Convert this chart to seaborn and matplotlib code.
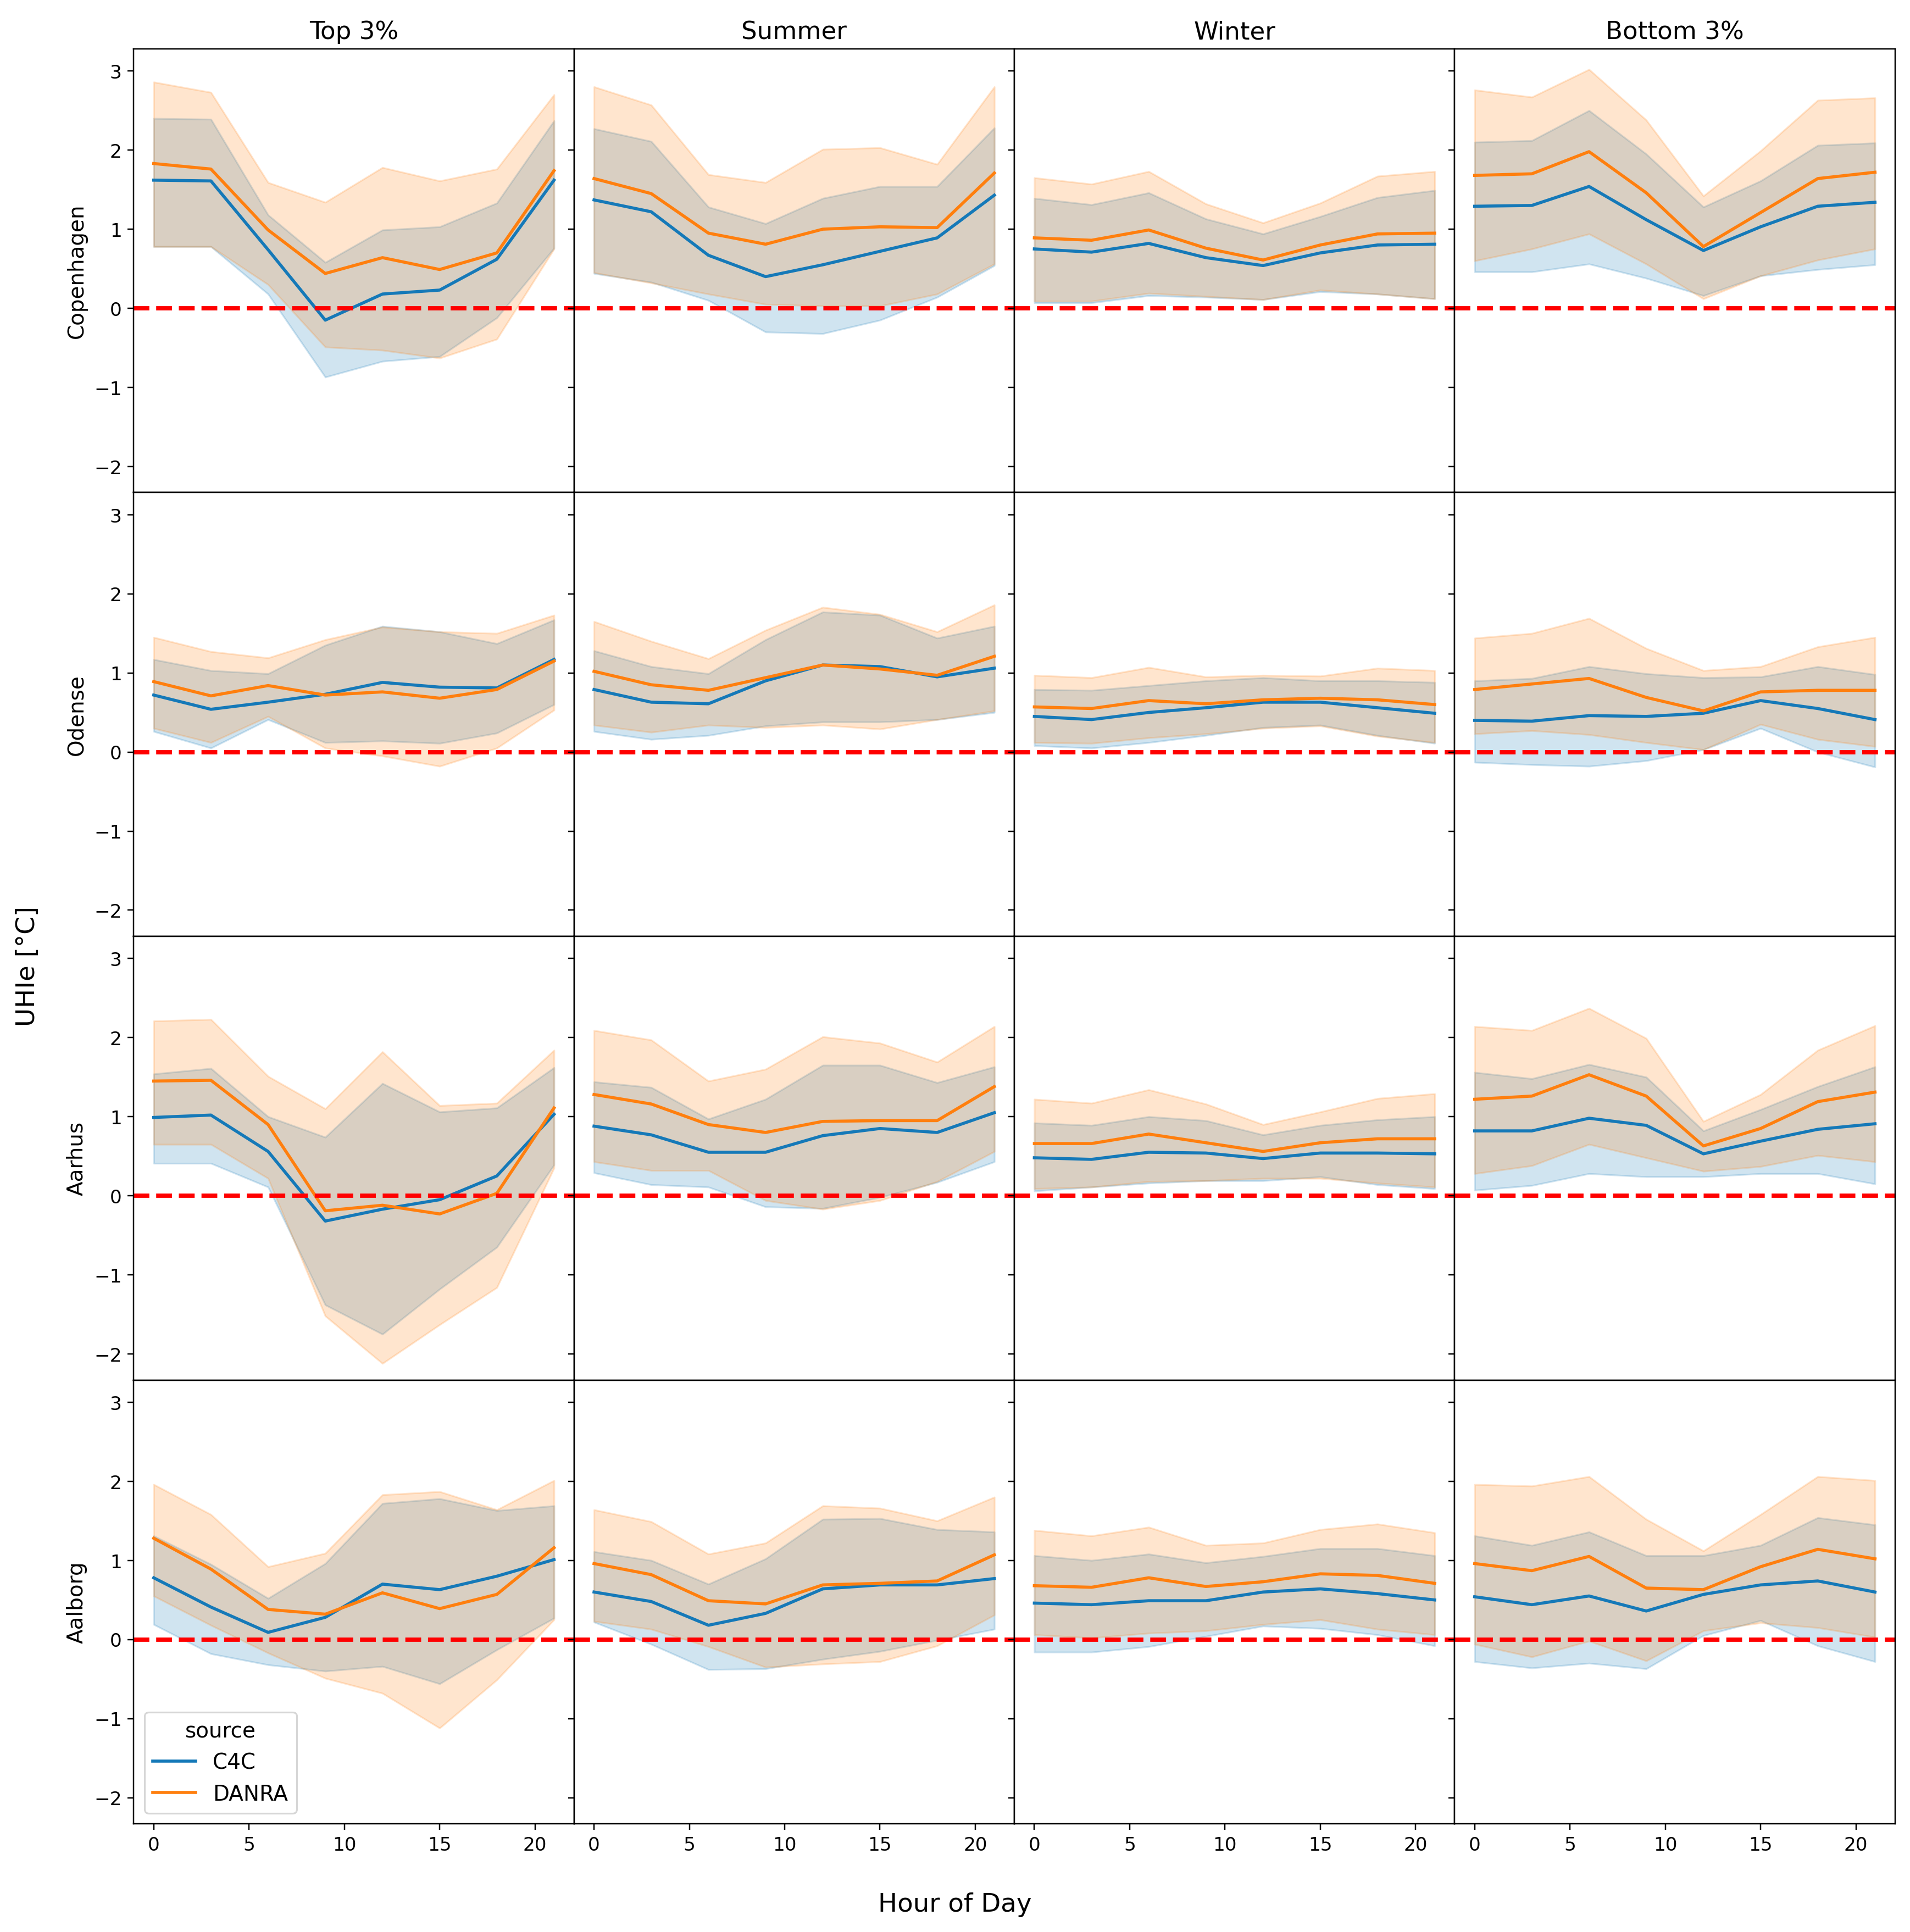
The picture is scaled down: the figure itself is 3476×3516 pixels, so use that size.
import matplotlib
matplotlib.use("Agg")
import matplotlib.pyplot as plt
import seaborn as sns
import pandas as pd

hours = [0, 3, 6, 9, 12, 15, 18, 21]
seasons = ["Top 3%", "Summer", "Winter", "Bottom 3%"]
cities = ["Copenhagen", "Odense", "Aarhus", "Aalborg"]
sources = ["C4C", "DANRA"]

# each array: one row per season (Top 3%, Summer, Winter, Bottom 3%), one value per hour
copenhagen_c4c = [[1.62, 1.61, 0.74, -0.15, 0.18, 0.23, 0.62, 1.62],
                  [1.37, 1.22, 0.67, 0.40, 0.55, 0.72, 0.89, 1.43],
                  [0.75, 0.71, 0.82, 0.64, 0.54, 0.70, 0.80, 0.81],
                  [1.29, 1.30, 1.54, 1.12, 0.73, 1.03, 1.29, 1.34]]
copenhagen_c4c_lo = [[0.78, 0.78, 0.18, -0.87, -0.67, -0.61, -0.12, 0.76],
                     [0.44, 0.33, 0.10, -0.30, -0.32, -0.15, 0.14, 0.54],
                     [0.07, 0.07, 0.16, 0.14, 0.11, 0.21, 0.18, 0.12],
                     [0.46, 0.46, 0.56, 0.38, 0.16, 0.41, 0.49, 0.55]]
copenhagen_c4c_hi = [[2.40, 2.39, 1.18, 0.58, 0.99, 1.03, 1.33, 2.37],
                     [2.27, 2.11, 1.28, 1.07, 1.39, 1.54, 1.54, 2.28],
                     [1.39, 1.31, 1.46, 1.13, 0.94, 1.16, 1.40, 1.49],
                     [2.10, 2.12, 2.50, 1.95, 1.28, 1.61, 2.06, 2.09]]
copenhagen_danra = [[1.83, 1.76, 0.99, 0.44, 0.64, 0.49, 0.70, 1.74],
                    [1.64, 1.45, 0.95, 0.81, 1.00, 1.03, 1.02, 1.71],
                    [0.89, 0.86, 0.99, 0.76, 0.61, 0.80, 0.94, 0.95],
                    [1.68, 1.70, 1.98, 1.46, 0.78, 1.21, 1.64, 1.72]]
copenhagen_danra_lo = [[0.78, 0.78, 0.30, -0.49, -0.53, -0.63, -0.39, 0.75],
                       [0.45, 0.32, 0.18, 0.05, 0.03, 0.03, 0.18, 0.56],
                       [0.09, 0.09, 0.19, 0.15, 0.11, 0.23, 0.18, 0.12],
                       [0.60, 0.75, 0.94, 0.56, 0.12, 0.41, 0.61, 0.75]]
copenhagen_danra_hi = [[2.86, 2.73, 1.59, 1.34, 1.78, 1.61, 1.76, 2.70],
                       [2.80, 2.57, 1.69, 1.59, 2.01, 2.03, 1.82, 2.80],
                       [1.65, 1.57, 1.73, 1.32, 1.08, 1.33, 1.67, 1.73],
                       [2.76, 2.67, 3.02, 2.38, 1.42, 1.99, 2.63, 2.66]]

odense_c4c = [[0.72, 0.54, 0.63, 0.73, 0.88, 0.82, 0.81, 1.17],
              [0.79, 0.63, 0.61, 0.90, 1.10, 1.08, 0.95, 1.06],
              [0.45, 0.41, 0.50, 0.56, 0.63, 0.63, 0.56, 0.49],
              [0.40, 0.39, 0.46, 0.45, 0.49, 0.65, 0.55, 0.41]]
odense_c4c_lo = [[0.26, 0.05, 0.41, 0.12, 0.14, 0.11, 0.24, 0.60],
                 [0.26, 0.16, 0.21, 0.33, 0.38, 0.38, 0.41, 0.50],
                 [0.08, 0.05, 0.12, 0.21, 0.31, 0.34, 0.21, 0.11],
                 [-0.13, -0.16, -0.18, -0.11, 0.03, 0.30, 0.00, -0.19]]
odense_c4c_hi = [[1.17, 1.03, 0.99, 1.35, 1.59, 1.52, 1.37, 1.67],
                 [1.28, 1.08, 0.99, 1.42, 1.77, 1.73, 1.44, 1.59],
                 [0.79, 0.78, 0.84, 0.90, 0.94, 0.90, 0.90, 0.88],
                 [0.90, 0.93, 1.08, 0.99, 0.94, 0.95, 1.08, 0.98]]
odense_danra = [[0.89, 0.71, 0.84, 0.72, 0.76, 0.68, 0.79, 1.15],
                [1.02, 0.85, 0.78, 0.94, 1.10, 1.05, 0.97, 1.21],
                [0.57, 0.55, 0.65, 0.61, 0.66, 0.68, 0.66, 0.60],
                [0.79, 0.86, 0.93, 0.69, 0.52, 0.76, 0.78, 0.78]]
odense_danra_lo = [[0.30, 0.12, 0.45, 0.05, -0.05, -0.18, 0.05, 0.53],
                   [0.34, 0.25, 0.34, 0.31, 0.34, 0.29, 0.41, 0.52],
                   [0.12, 0.11, 0.18, 0.23, 0.30, 0.33, 0.20, 0.12],
                   [0.23, 0.27, 0.22, 0.12, 0.03, 0.35, 0.16, 0.07]]
odense_danra_hi = [[1.45, 1.27, 1.19, 1.42, 1.58, 1.52, 1.50, 1.73],
                   [1.65, 1.40, 1.18, 1.54, 1.83, 1.74, 1.52, 1.86],
                   [0.97, 0.94, 1.07, 0.95, 0.97, 0.96, 1.06, 1.03],
                   [1.44, 1.50, 1.69, 1.31, 1.03, 1.08, 1.33, 1.45]]

aarhus_c4c = [[0.99, 1.02, 0.56, -0.32, -0.17, -0.05, 0.25, 1.03],
              [0.88, 0.77, 0.55, 0.55, 0.76, 0.85, 0.80, 1.05],
              [0.48, 0.46, 0.55, 0.54, 0.47, 0.54, 0.54, 0.53],
              [0.82, 0.82, 0.98, 0.89, 0.53, 0.69, 0.84, 0.91]]
aarhus_c4c_lo = [[0.41, 0.41, 0.11, -1.38, -1.75, -1.18, -0.65, 0.39],
                 [0.29, 0.14, 0.11, -0.14, -0.16, -0.02, 0.17, 0.43],
                 [0.06, 0.11, 0.16, 0.19, 0.19, 0.24, 0.14, 0.09],
                 [0.07, 0.13, 0.28, 0.24, 0.24, 0.28, 0.28, 0.15]]
aarhus_c4c_hi = [[1.54, 1.61, 1.00, 0.74, 1.42, 1.06, 1.11, 1.62],
                 [1.44, 1.37, 0.97, 1.22, 1.65, 1.65, 1.43, 1.63],
                 [0.92, 0.89, 1.00, 0.95, 0.77, 0.89, 0.96, 1.00],
                 [1.56, 1.48, 1.66, 1.50, 0.82, 1.09, 1.38, 1.63]]
aarhus_danra = [[1.45, 1.46, 0.90, -0.19, -0.12, -0.23, 0.03, 1.11],
                [1.28, 1.16, 0.90, 0.80, 0.94, 0.95, 0.95, 1.38],
                [0.66, 0.66, 0.78, 0.67, 0.56, 0.67, 0.72, 0.72],
                [1.22, 1.26, 1.53, 1.26, 0.63, 0.85, 1.19, 1.31]]
aarhus_danra_lo = [[0.65, 0.65, 0.22, -1.52, -2.12, -1.63, -1.16, 0.35],
                   [0.43, 0.32, 0.32, -0.06, -0.17, -0.06, 0.18, 0.56],
                   [0.09, 0.11, 0.18, 0.19, 0.22, 0.22, 0.16, 0.11],
                   [0.28, 0.38, 0.65, 0.48, 0.31, 0.37, 0.51, 0.43]]
aarhus_danra_hi = [[2.21, 2.23, 1.51, 1.10, 1.82, 1.14, 1.17, 1.84],
                   [2.09, 1.97, 1.45, 1.60, 2.01, 1.93, 1.69, 2.14],
                   [1.22, 1.17, 1.34, 1.16, 0.90, 1.06, 1.23, 1.29],
                   [2.14, 2.09, 2.37, 1.99, 0.94, 1.28, 1.84, 2.15]]

aalborg_c4c = [[0.78, 0.41, 0.09, 0.28, 0.70, 0.63, 0.80, 1.01],
               [0.60, 0.48, 0.18, 0.33, 0.64, 0.69, 0.69, 0.77],
               [0.46, 0.44, 0.49, 0.49, 0.60, 0.64, 0.58, 0.50],
               [0.54, 0.44, 0.55, 0.36, 0.57, 0.69, 0.74, 0.60]]
aalborg_c4c_lo = [[0.19, -0.18, -0.32, -0.40, -0.34, -0.56, -0.13, 0.27],
                  [0.22, -0.06, -0.38, -0.37, -0.25, -0.15, -0.01, 0.13],
                  [-0.16, -0.16, -0.09, 0.04, 0.17, 0.14, 0.06, -0.08],
                  [-0.28, -0.36, -0.30, -0.37, 0.05, 0.24, -0.08, -0.28]]
aalborg_c4c_hi = [[1.31, 0.95, 0.52, 0.96, 1.72, 1.78, 1.63, 1.69],
                  [1.11, 1.00, 0.70, 1.02, 1.52, 1.53, 1.39, 1.36],
                  [1.06, 1.00, 1.08, 0.97, 1.05, 1.15, 1.15, 1.06],
                  [1.31, 1.19, 1.36, 1.06, 1.06, 1.19, 1.54, 1.45]]
aalborg_danra = [[1.28, 0.89, 0.38, 0.32, 0.59, 0.39, 0.57, 1.16],
                 [0.96, 0.82, 0.49, 0.45, 0.69, 0.71, 0.74, 1.07],
                 [0.68, 0.66, 0.78, 0.67, 0.73, 0.83, 0.81, 0.71],
                 [0.96, 0.87, 1.05, 0.65, 0.63, 0.92, 1.14, 1.02]]
aalborg_danra_lo = [[0.55, 0.18, -0.17, -0.49, -0.68, -1.12, -0.51, 0.25],
                    [0.23, 0.13, -0.09, -0.35, -0.31, -0.28, -0.08, 0.31],
                    [0.06, 0.02, 0.08, 0.11, 0.19, 0.25, 0.13, 0.06],
                    [-0.06, -0.22, -0.02, -0.27, 0.11, 0.21, 0.15, 0.03]]
aalborg_danra_hi = [[1.96, 1.58, 0.92, 1.09, 1.83, 1.87, 1.64, 2.01],
                    [1.64, 1.49, 1.08, 1.22, 1.69, 1.66, 1.50, 1.80],
                    [1.38, 1.31, 1.42, 1.19, 1.22, 1.39, 1.46, 1.35],
                    [1.96, 1.94, 2.06, 1.52, 1.12, 1.58, 2.06, 2.01]]

city_data = {
    "Copenhagen": {"C4C": (copenhagen_c4c_lo, copenhagen_c4c, copenhagen_c4c_hi),
                   "DANRA": (copenhagen_danra_lo, copenhagen_danra, copenhagen_danra_hi)},
    "Odense": {"C4C": (odense_c4c_lo, odense_c4c, odense_c4c_hi),
               "DANRA": (odense_danra_lo, odense_danra, odense_danra_hi)},
    "Aarhus": {"C4C": (aarhus_c4c_lo, aarhus_c4c, aarhus_c4c_hi),
               "DANRA": (aarhus_danra_lo, aarhus_danra, aarhus_danra_hi)},
    "Aalborg": {"C4C": (aalborg_c4c_lo, aalborg_c4c, aalborg_c4c_hi),
                "DANRA": (aalborg_danra_lo, aalborg_danra, aalborg_danra_hi)},
}

# long table: low / central / high per hour, so median = line and min-max = band
rows = []
for city in cities:
    for src in sources:
        for k, season in enumerate(seasons):
            for arr in city_data[city][src]:
                for h, v in zip(hours, arr[k]):
                    rows.append({"city": city, "season": season, "source": src,
                                 "hour": h, "uhie": v})
df = pd.DataFrame(rows)

palette = {"C4C": "#1579b8", "DANRA": "#ff7f0e"}

fig, axes = plt.subplots(4, 4, figsize=(15.52, 15.7), sharex=True, sharey=True)

for i, city in enumerate(cities):
    for j, season in enumerate(seasons):
        ax = axes[i, j]
        sub = df[(df["city"] == city) & (df["season"] == season)]
        show_legend = (i == 3 and j == 0)
        sns.lineplot(data=sub, x="hour", y="uhie", hue="source", hue_order=sources,
                     palette=palette, estimator="median", errorbar=("pi", 100),
                     linewidth=1.8, ax=ax, legend=show_legend)
        ax.axhline(0, color="red", linestyle="--", linewidth=2.5)
        ax.set_xlabel("")
        ax.set_ylabel(city if j == 0 else "", fontsize=12.5)
        if i == 0:
            ax.set_title(season, fontsize=14.5)
        ax.tick_params(labelsize=11)
        if show_legend:
            sns.move_legend(ax, "lower left", title="source", fontsize=12.5,
                            title_fontsize=12.5)

axes[0, 0].set_ylim(-2.33, 3.28)

fig.subplots_adjust(left=0.07, right=0.992, top=0.9745, bottom=0.056,
                    wspace=0, hspace=0)
fig.supxlabel("Hour of Day", fontsize=15, y=0.008)
fig.supylabel("UHIe [°C]", fontsize=15, x=0.008)

fig.savefig("out.png", dpi=224)
